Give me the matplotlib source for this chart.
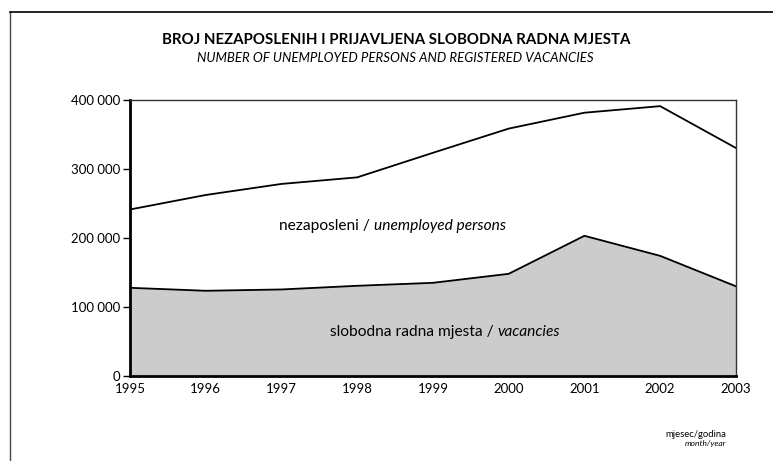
import numpy as np
import matplotlib.pyplot as plt
from matplotlib.lines import Line2D
from matplotlib.offsetbox import TextArea, HPacker, AnnotationBbox

plt.rcParams['font.family'] = ['Lato', 'DejaVu Sans']

# data
years = [1995, 1996, 1997, 1998, 1999, 2000, 2001, 2002, 2003]
unemployed = [241000, 262000, 278000, 287500, 323000, 358000, 381000, 390500, 330000]
vacancies = [127800, 123500, 125400, 130700, 135000, 148000, 203000, 174000, 130000]
yticks = [0, 100000, 200000, 300000, 400000]
ytick_labels = ['0', '100 000', '200 000', '300 000', '400 000']

fig = plt.figure(figsize=(7.73, 4.61), dpi=100)
ax = fig.add_axes([0.168, 0.184, 0.784, 0.600])

ax.fill_between(years, 0, vacancies, color='#cccccc', zorder=1)
ax.plot(years, vacancies, color='black', lw=1.3, zorder=2)
ax.plot(years, unemployed, color='black', lw=1.3, zorder=2)

ax.set_xlim(1995, 2003)
ax.set_ylim(0, 400000)
ax.set_xticks(years)
ax.set_xticklabels([str(y) for y in years], fontsize=9.5)
ax.set_yticks(yticks)
ax.set_yticklabels(ytick_labels, fontsize=9.5)
ax.tick_params(axis='x', length=0, pad=5)
ax.tick_params(axis='y', length=5, width=1, pad=2)
for s in ['left', 'bottom']:
    ax.spines[s].set_linewidth(2)
for s in ['top', 'right']:
    ax.spines[s].set_linewidth(1)
    ax.spines[s].set_color('#333333')

# in-chart labels with mixed upright / italic text
def mixed_label(x, y, plain, italic):
    box = HPacker(children=[TextArea(plain, textprops=dict(fontsize=11.2)),
                            TextArea(italic, textprops=dict(fontsize=11.2, style='italic'))],
                  align='baseline', pad=0, sep=0)
    ab = AnnotationBbox(box, (x, y), xycoords='data', frameon=False,
                        box_alignment=(0.5, 0.5), pad=0)
    ax.add_artist(ab)

mixed_label(1998.47, 217000, 'nezaposleni / ', 'unemployed persons')
mixed_label(1999.16, 64000, 'slobodna radna mjesta / ', 'vacancies')

fig.text(0.512, 0.913, 'BROJ NEZAPOSLENIH I PRIJAVLJENA SLOBODNA RADNA MJESTA',
         ha='center', va='center', fontsize=10.8, fontweight='bold')
fig.text(0.511, 0.874, 'NUMBER OF UNEMPLOYED PERSONS AND REGISTERED VACANCIES',
         ha='center', va='center', fontsize=9.5, style='italic')

fig.text(0.940, 0.058, 'mjesec/godina', ha='right', va='center', fontsize=6.8)
fig.text(0.940, 0.039, 'month/year', ha='right', va='center', fontsize=6.0, style='italic')

# page frame lines
fig.add_artist(Line2D([0.013, 0.013], [0.0, 0.974], transform=fig.transFigure, color='#444444', lw=1))
fig.add_artist(Line2D([0.013, 1.0], [0.974, 0.974], transform=fig.transFigure, color='black', lw=1.2))

fig.savefig('out.png', dpi=100)
